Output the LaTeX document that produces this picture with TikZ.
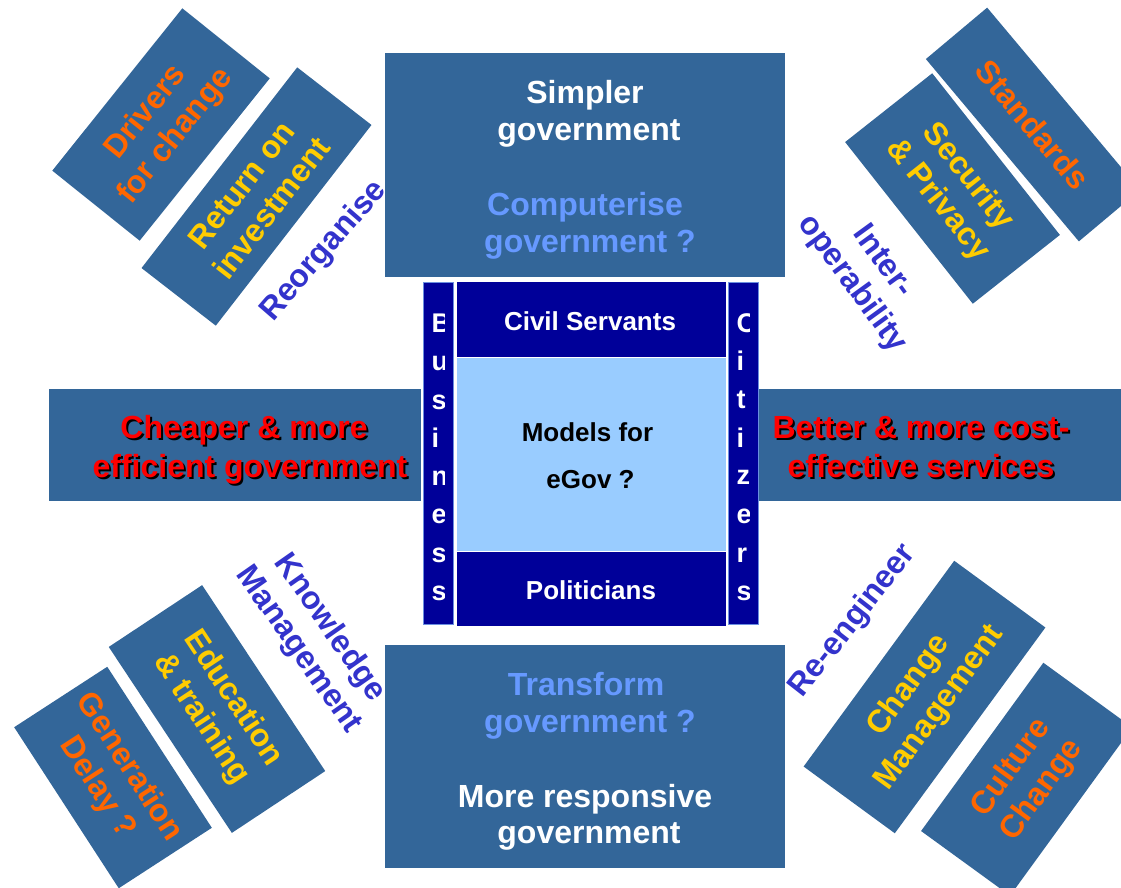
\documentclass[tikz,border=0pt]{standalone}
\usepackage{fontspec}
\setmainfont{Liberation Sans}
\definecolor{boxblue}{HTML}{336699}
\definecolor{navyC}{HTML}{000099}
\definecolor{lightC}{HTML}{99CCFF}
\definecolor{paleT}{HTML}{6699FF}
\definecolor{orangeT}{HTML}{FF6600}
\definecolor{yellowT}{HTML}{FFCC00}
\definecolor{labelC}{HTML}{3333CC}
\definecolor{redT}{HTML}{FF0000}
\tikzset{
  bigfont/.style={font=\fontsize{32}{38}\selectfont\bfseries},
  midfont/.style={font=\fontsize{26}{30}\selectfont\bfseries},
  colfont/.style={font=\fontsize{27}{30}\selectfont\bfseries},
  rbox/.style={fill=boxblue, draw=none, inner sep=0pt, align=center, bigfont},
  panel/.style={fill=boxblue, draw=none, inner sep=0pt, anchor=north west},
  navybox/.style={fill=navyC, draw=white, line width=0.8pt, inner sep=0pt, anchor=north west},
  colbox/.style={fill=navyC, draw=lightC!70!navyC, line width=0.6pt, inner sep=0pt, anchor=north west},
  lbl/.style={text=labelC, bigfont, inner sep=0pt, align=center},
  line/.style={bigfont, inner sep=0pt, anchor=base},
  cline/.style={midfont, inner sep=0pt, anchor=base},
  letter/.style={colfont, inner sep=0pt, anchor=base west, text=white},
  shad/.style={bigfont, inner sep=0pt, anchor=base, text=black},
}
\begin{document}
\begin{tikzpicture}[x=1pt,y=-1pt]
\useasboundingbox (0,0) rectangle (1121,887);
\clip (0,0) rectangle (1121,887);

% ---------- rotated boxes ----------
\node[rbox, text=orangeT, minimum width=208, minimum height=112, rotate=51.3] (drivers) at (161,124.5) {Drivers\\for change};
\node[rbox, text=yellowT, minimum width=254, minimum height=94, rotate=52.2] (roi) at (256.5,196.5) {Return on\\investment};
\node[rbox, text=orangeT, minimum width=238, minimum height=80, rotate=-50] (standards) at (1033,124.5) {Standards};
\node[rbox, text=yellowT, minimum width=206, minimum height=111, rotate=-51.7] (security) at (952.5,188.5) {Security\\\& Privacy};
\node[rbox, text=yellowT, minimum width=223, minimum height=112, rotate=-56.5] (education) at (217,709) {Education\\\& training};
\node[rbox, text=orangeT, minimum width=192, minimum height=111, rotate=-57] (generation) at (113,777.5) {Generation\\Delay ?};
\node[rbox, text=yellowT, minimum width=255, minimum height=113, rotate=53.8] (changemgmt) at (924.5,697) {Change\\Management};
\node[rbox, text=orangeT, minimum width=208, minimum height=110, rotate=54] (culture) at (1026.7,779.2) {Culture\\Change};

% ---------- diagonal labels ----------
\node[lbl, rotate=49] (reorg) at (324,251) {Reorganise};
\node[lbl, rotate=-54] (interop) at (867,273) {Inter-\\operability};
\node[lbl, rotate=-55] (km) at (314,639) {Knowledge\\Management};
\node[lbl, rotate=52] (reeng) at (853,621) {Re-engineer};

% ---------- main panels ----------
\node[panel, minimum width=400, minimum height=224] (top) at (385,53) {};
\node[panel, minimum width=400, minimum height=223] (bottom) at (385,645) {};
\node[panel, minimum width=372, minimum height=112] (left) at (49,389) {};
\node[panel, minimum width=380, minimum height=112] (right) at (759,389) {};

% top panel text
\node[line, text=white] (t1) at (585,103) {Simpler};
\node[line, text=white] (t2) at (589,140) {government};
\node[line, text=paleT] (t3) at (585,215) {Computerise};
\node[line, text=paleT] (t4) at (590,252) {government ?};

% bottom panel text
\node[line, text=paleT] (b1) at (586,695) {Transform};
\node[line, text=paleT] (b2) at (590,732) {government ?};
\node[line, text=white] (b3) at (585,807) {More responsive};
\node[line, text=white] (b4) at (589,843) {government};

% left panel text (shadowed)
\node[shad] (l1s) at (246,440) {Cheaper \& more};
\node[line, text=redT] (l1) at (244,438) {Cheaper \& more};
\node[shad] (l2s) at (252,479) {efficient government};
\node[line, text=redT] (l2) at (250,477) {efficient government};

% right panel text (shadowed)
\node[shad] (r1s) at (923,440) {Better \& more cost-};
\node[line, text=redT] (r1) at (921,438) {Better \& more cost-};
\node[shad] (r2s) at (923,479) {effective services};
\node[line, text=redT] (r2) at (921,477) {effective services};

% ---------- centre ----------
\node[colbox, minimum width=30, minimum height=342] (business) at (423,282) {};
\node[colbox, minimum width=30, minimum height=342] (citizens) at (728,282) {};
\node[navybox, minimum width=270, minimum height=76] (civil) at (456,281) {};
\node[navybox, fill=lightC, minimum width=270, minimum height=194] (models) at (456,357) {};
\node[navybox, minimum width=270, minimum height=75] (politicians) at (456,551) {};

\node[cline, text=white] (cs) at (590,330) {Civil Servants};
\node[cline, text=black] (m1) at (587.5,441) {Models for};
\node[cline, text=black] (m2) at (590.5,488) {eGov ?};
\node[cline, text=white] (pol) at (591,599) {Politicians};

\begin{scope}
  \clip (423,282) rectangle (444.5,624);
  \foreach \l/\y [count=\i] in {B/332,u/370,s/409,i/447,n/485,e/523,s/562,s/600}
    \node[letter] (bus\i) at (431.5,\y) {\l};
\end{scope}
\begin{scope}
  \clip (728,282) rectangle (749,624);
  \foreach \l/\y [count=\i] in {C/332,i/370,t/408,i/447,z/484,e/523,r/562,s/600}
    \node[letter] (cit\i) at (736.5,\y) {\l};
\end{scope}
\end{tikzpicture}
\end{document}
